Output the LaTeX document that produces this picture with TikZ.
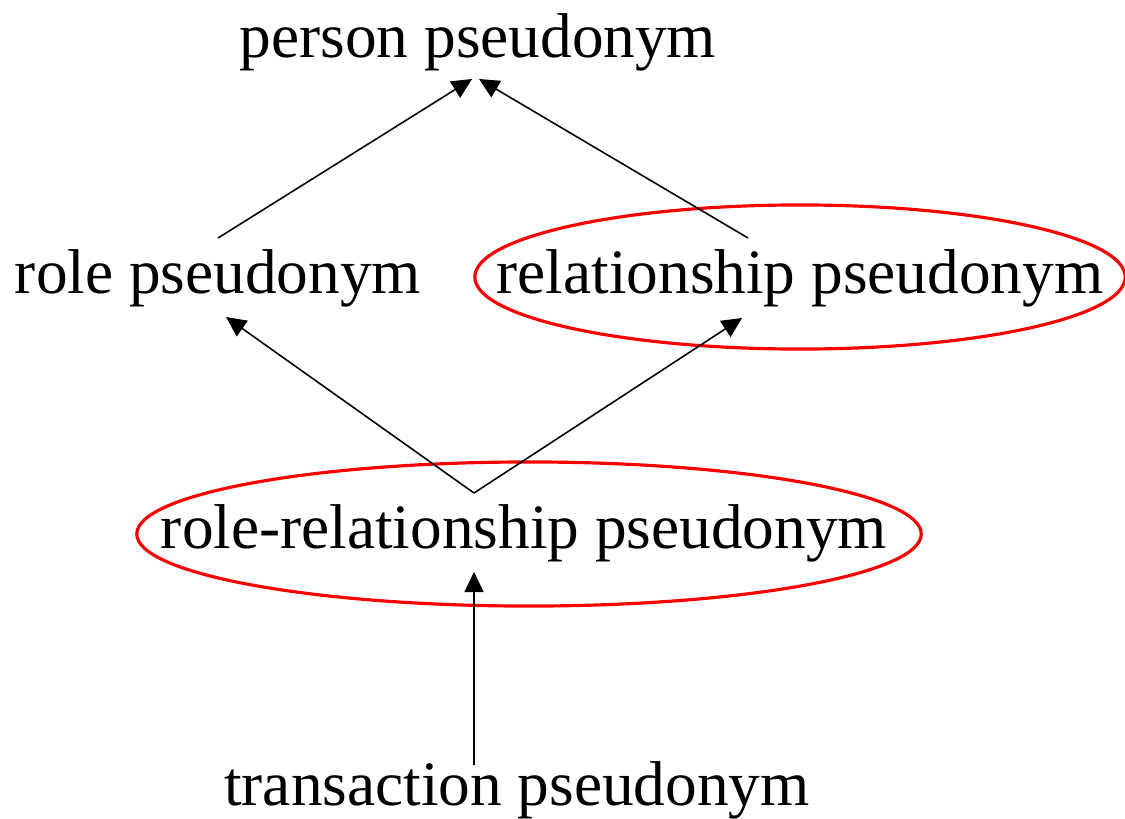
\documentclass[tikz,border=0pt]{standalone}
\usepackage{fontspec}
\setmainfont{Liberation Serif}
\usepackage{tikz}
\usetikzlibrary{arrows.meta, calc}
\definecolor{ringcolor}{RGB}{250,0,0}

\begin{document}
\begin{tikzpicture}[
    x=0.01cm, y=-0.01cm,
    term/.style={inner sep=0pt, anchor=base, font=\fontsize{18}{22}\selectfont},
    link/.style={line width=0.45pt, -{Triangle[length=0.2cm, width=0.19cm]}},
    ring/.style={draw=ringcolor, line width=0.9pt}
]
    \useasboundingbox (0,0) rectangle (1125,818);

    % Pseudonyms
    \node[term] (person) at (478,57) {person pseudonym};
    \node[term] (role) at (218,293) {role pseudonym};
    \node[term] (relation) at (800,293) {relationship pseudonym};
    \node[term] (rolerel) at (524,548) {role-relationship pseudonym};
    \node[term] (transaction) at (517,805) {transaction pseudonym};

    % Highlights
    \draw[ring] ($(relation.base)+(0,-16)$) ellipse [x radius=3.25cm, y radius=0.72cm];
    \draw[ring] ($(rolerel.base)+(5,-14)$) ellipse [x radius=3.92cm, y radius=0.72cm];

    % Connections
    \draw[link] ($(role.base)+(0,-55)$) -- ($(person.base)+(-6,22)$);
    \draw[link] ($(relation.base)+(-52,-55)$) -- ($(person.base)+(1,22)$);
    \draw[link] ($(rolerel.base)+(-50,-55)$) -- ($(role.base)+(8,24)$);
    \draw[link] ($(rolerel.base)+(-50,-55)$) -- ($(relation.base)+(-58,25)$);
    \draw[link] ($(transaction.base)+(-43,-40)$) -- ($(rolerel.base)+(-50,24)$);
\end{tikzpicture}
\end{document}
